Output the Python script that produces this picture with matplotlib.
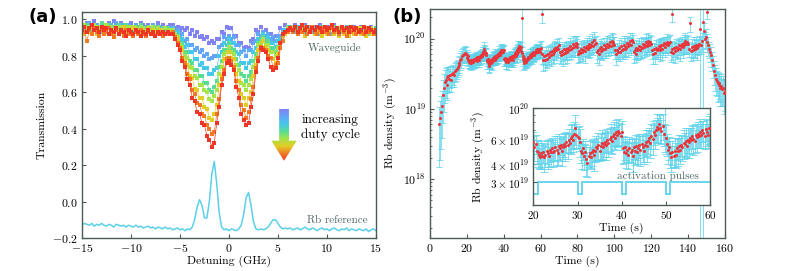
import numpy as np
import matplotlib
matplotlib.use('Agg')
import matplotlib.pyplot as plt
from matplotlib.colors import LinearSegmentedColormap
from matplotlib.patches import Polygon
from matplotlib.ticker import FixedLocator, FixedFormatter, LogLocator, NullFormatter

plt.rcParams['font.family'] = 'cmr10'
plt.rcParams['mathtext.fontset'] = 'cm'
plt.rcParams['axes.formatter.use_mathtext'] = True
plt.rcParams['axes.unicode_minus'] = False

# ---------------- panel (a): transmission vs detuning ----------------
detuning = np.arange(-15, 15.001, 0.25)

purple = [.96,.97,.98,.96,.97,.99,.97,.96,.98,.97,.96,.98,.97,.99,.97,.96,.98,.97,.96,.97,.98,.96,.97,.96,.98,.97,.96,.97,.95,.97,.96,.98,.96,.97,.95,.96,.97,
          .97,.95,.96,.94,.95,.94,.95,.92,.94,.91,.93,.90,.91,.89,.90,.87,.88,.87,.89,.89,.93,.92,.96,.95,.95,.91,.91,.87,.87,.84,.85,.84,.88,.89,.94,.93,.96,.93,.94,.91,.92,.89,.91,.91,.95,.94,.97,.96,
          .96,.95,.97,.96,.95,.96,.97,.95,.96,.94,.96,.95,.97,.96,.94,.95,.96,.95,.97,.95,.94,.96,.95,.96,.94,.95,.96,.95,.94,.96,.95,.94,.95,.96,.94,.95]
blue = [.95,.97,.96,.98,.96,.95,.97,.96,.98,.97,.95,.96,.97,.96,.98,.95,.97,.96,.95,.97,.96,.95,.97,.96,.95,.96,.94,.96,.95,.97,.95,.94,.96,.95,.94,.95,.95,
        .95,.93,.94,.91,.92,.88,.89,.86,.86,.83,.84,.82,.83,.80,.81,.78,.79,.80,.80,.85,.86,.90,.89,.91,.89,.90,.86,.86,.82,.83,.80,.83,.83,.87,.88,.92,.91,.93,.91,.92,.89,.90,.88,.91,.91,.94,.93,.96,
        .95,.96,.94,.96,.95,.93,.96,.95,.94,.96,.95,.93,.95,.96,.94,.95,.93,.95,.96,.94,.95,.93,.94,.96,.95,.93,.94,.95,.93,.94,.96,.94,.93,.95,.94,.93]
cyan = [.94,.96,.93,.95,.97,.94,.96,.95,.93,.96,.95,.97,.94,.95,.96,.94,.95,.97,.95,.94,.96,.95,.93,.95,.96,.94,.95,.93,.95,.94,.96,.94,.93,.95,.94,.95,.94,
        .95,.93,.93,.89,.89,.85,.86,.82,.82,.78,.78,.75,.76,.73,.73,.70,.70,.72,.73,.80,.82,.87,.86,.89,.87,.87,.82,.81,.76,.76,.73,.76,.77,.82,.84,.89,.89,.92,.89,.90,.87,.87,.85,.88,.89,.93,.94,.96,
        .95,.94,.93,.95,.96,.94,.92,.95,.94,.93,.95,.94,.92,.94,.95,.93,.94,.92,.95,.94,.93,.95,.92,.94,.93,.95,.94,.92,.94,.93,.95,.93,.92,.94,.93,.94]
green = [.96,.95,.97,.96,.94,.97,.95,.96,.98,.95,.96,.97,.95,.96,.94,.97,.96,.95,.97,.96,.95,.94,.96,.95,.97,.95,.94,.96,.95,.93,.95,.96,.94,.95,.94,.95,.94,
         .94,.92,.91,.87,.87,.82,.82,.77,.76,.72,.72,.69,.69,.65,.65,.61,.60,.63,.66,.74,.77,.83,.83,.87,.84,.83,.78,.75,.70,.69,.66,.69,.71,.77,.81,.87,.88,.90,.87,.88,.84,.84,.82,.85,.87,.92,.93,.96,
         .95,.96,.94,.95,.93,.96,.95,.94,.96,.95,.93,.95,.94,.96,.95,.93,.94,.95,.96,.94,.95,.93,.95,.94,.96,.94,.93,.95,.94,.95,.93,.94,.95,.93,.94,.95]
lime = [.95,.97,.94,.96,.95,.97,.96,.94,.96,.95,.97,.95,.96,.94,.96,.95,.96,.94,.95,.96,.94,.96,.95,.94,.96,.95,.93,.95,.94,.96,.94,.95,.93,.94,.95,.94,.94,
        .94,.92,.90,.86,.85,.80,.79,.74,.73,.69,.68,.64,.64,.61,.60,.56,.55,.58,.61,.70,.74,.81,.82,.85,.82,.81,.75,.72,.65,.64,.61,.64,.67,.74,.79,.86,.87,.89,.86,.86,.82,.82,.80,.84,.86,.92,.93,.95,
        .94,.96,.95,.93,.95,.94,.96,.94,.93,.95,.94,.96,.93,.95,.94,.93,.95,.96,.94,.93,.95,.94,.92,.95,.94,.93,.95,.94,.93,.95,.92,.94,.93,.95,.94,.93]
yellow = [.94,.92,.95,.93,.96,.94,.92,.95,.94,.96,.93,.95,.94,.92,.95,.93,.94,.96,.93,.94,.92,.95,.93,.94,.92,.94,.93,.95,.92,.94,.93,.92,.94,.93,.92,.93,.93,
          .92,.91,.89,.84,.83,.77,.75,.69,.68,.62,.61,.57,.57,.52,.51,.46,.45,.48,.53,.64,.69,.78,.79,.82,.79,.78,.70,.66,.59,.57,.53,.57,.60,.69,.75,.83,.85,.88,.84,.83,.79,.78,.76,.81,.84,.91,.92,.94,
          .94,.93,.95,.92,.94,.93,.91,.94,.93,.95,.92,.94,.93,.91,.94,.92,.93,.95,.92,.93,.91,.94,.92,.93,.91,.94,.92,.93,.95,.92,.93,.91,.93,.92,.94,.92]
orange = [.95,.93,.88,.94,.92,.95,.93,.91,.94,.92,.93,.95,.92,.90,.94,.92,.93,.91,.94,.92,.93,.91,.93,.92,.94,.92,.91,.93,.92,.93,.91,.92,.93,.91,.92,.92,.92,
          .93,.90,.87,.84,.79,.76,.70,.67,.61,.59,.54,.53,.48,.47,.42,.40,.37,.38,.48,.56,.67,.72,.78,.79,.77,.74,.66,.61,.53,.50,.46,.49,.56,.63,.73,.79,.85,.84,.83,.80,.79,.74,.75,.76,.84,.88,.93,.93,
          .94,.93,.95,.92,.94,.93,.95,.92,.94,.96,.93,.92,.94,.95,.93,.94,.92,.95,.93,.94,.92,.95,.93,.91,.94,.93,.95,.92,.94,.93,.92,.95,.93,.94,.92,.93]
red = [.94,.96,.93,.95,.97,.94,.95,.93,.96,.94,.95,.92,.94,.93,.95,.92,.94,.93,.91,.94,.93,.92,.94,.93,.91,.93,.92,.94,.92,.93,.91,.93,.92,.93,.92,.93,.92,
       .92,.89,.86,.83,.77,.74,.67,.64,.57,.55,.49,.48,.43,.42,.36,.34,.30,.32,.43,.52,.64,.70,.76,.77,.75,.72,.63,.57,.48,.45,.42,.43,.52,.59,.71,.77,.84,.83,.82,.78,.74,.72,.73,.79,.87,.92,.93,.94,
       .95,.94,.96,.93,.95,.97,.94,.96,.93,.95,.94,.96,.95,.93,.96,.94,.95,.97,.94,.95,.93,.96,.94,.95,.93,.96,.94,.95,.93,.94,.96,.93,.95,.94,.93,.94]

rb_reference = [-0.13,-0.12,-0.125,-0.13,-0.12,-0.135,-0.125,-0.13,-0.12,-0.13,-0.135,-0.125,-0.13,-0.14,-0.125,-0.13,-0.135,-0.13,-0.14,-0.13,
                -0.135,-0.14,-0.13,-0.14,-0.135,-0.145,-0.14,-0.135,-0.145,-0.14,-0.15,-0.14,-0.145,-0.15,-0.14,-0.15,-0.145,-0.155,-0.15,-0.145,
                -0.155,-0.15,-0.16,-0.15,-0.155,
                -0.14,-0.10,-0.03,0.01,-0.02,-0.09,-0.09,0.00,0.15,0.22,0.10,-0.06,-0.14,-0.155,-0.15,-0.16,-0.15,-0.155,-0.16,-0.15,
                -0.13,-0.07,0.02,0.05,-0.02,-0.11,-0.15,-0.155,-0.15,-0.155,-0.15,-0.14,-0.12,-0.10,-0.10,-0.12,-0.14,-0.15,-0.145,
                -0.15,-0.145,-0.155,-0.15,-0.145,-0.155,-0.15,-0.14,-0.15,-0.155,-0.145,-0.15,-0.16,-0.15,-0.145,-0.155,-0.15,-0.16,-0.15,-0.145,
                -0.155,-0.16,-0.15,-0.155,-0.145,-0.16,-0.15,-0.155,-0.16,-0.15,-0.155,-0.16,-0.15,-0.165,-0.155,-0.15,-0.16]

curves = [purple, blue, cyan, green, lime, yellow, orange, red]
curve_colors = ['#8282f2', '#62a6f7', '#46c8ea', '#58dc96', '#a6e44a', '#e2cc26', '#f07a24', '#ee3526']

# ---------------- panel (b): Rb density vs time (units of 1e19 m^-3) ----------------
t_early = np.arange(5.0, 19.6, 0.5)
t_mid = np.arange(20.0, 59.9, 0.25)
t_late = np.arange(60.0, 160.1, 0.5)

dens_early = [0.6, 0.75, 0.9, 1.1, 1.6, 2.0, 2.4, 2.6, 2.2, 2.8, 2.9, 2.7, 3.0, 2.6, 3.1, 3.2, 3.0, 3.4, 3.6, 3.7,
              3.9, 4.2, 4.5, 4.9, 5.2, 5.6, 5.9, 6.1, 6.3, 6.0]
dens_mid = [5.8, 5.3, 5.6, 5.0, 4.9,
            4.7, 4.5, 4.8, 4.6, 4.9, 4.5, 4.7, 5.0, 4.8, 4.6, 5.1, 4.9,
            5.2, 4.9, 5.0, 5.3, 5.1, 4.8, 5.4, 5.2, 5.5, 5.0, 5.3, 5.6,
            5.4, 5.8, 5.5, 6.0, 5.7, 6.2, 6.4, 6.0, 6.6, 7.2, 6.5, 6.3,
            6.2, 5.8, 5.0, 4.8, 5.2, 4.6, 4.9, 4.4, 4.1, 4.6, 4.8, 4.5,
            4.9, 5.1, 4.7, 5.0, 5.3, 5.2, 5.5, 5.0, 5.4, 5.7, 5.3, 5.6,
            5.8, 5.5, 6.0, 5.7, 6.1, 6.3, 5.9, 6.4, 6.6, 6.2, 6.8, 6.5,
            6.9, 6.7, 6.4, 6.8, 5.2, 4.9, 5.3, 4.8, 5.1, 4.7, 5.2, 4.9,
            5.1, 4.6, 5.3, 5.0, 5.4, 4.9, 5.2, 5.5, 5.1, 5.6, 5.3, 5.0,
            5.5, 5.8, 5.4, 5.9, 6.2, 5.7, 6.4, 6.1, 6.8, 6.5, 7.0, 7.4,
            7.1, 7.8, 7.3, 6.9, 7.5, 6.6, 19.5, 6.2, 5.6, 5.1, 5.3, 4.8,
            4.5, 4.9, 4.6, 5.0, 4.7, 5.2, 5.0, 5.4, 5.1, 5.5, 5.3, 5.7,
            5.6, 5.9, 5.4, 6.0, 5.8, 6.2, 6.0, 6.4, 6.1, 5.9, 6.5, 6.3,
            6.6, 6.4, 6.8, 6.5, 7.0, 6.7, 6.4, 7.1, 6.8, 6.5, 7.2]
dens_late = [7.3, 22.0, 6.0, 5.0, 5.6, 4.9, 5.8, 5.2, 6.1, 5.5, 6.4, 5.8, 6.7, 6.1, 7.0, 6.5, 7.4, 6.8, 7.7, 7.2,
             8.0, 6.4, 5.8, 6.6, 6.0, 7.0, 6.2, 6.6, 7.1, 6.5, 7.3, 6.8, 7.9, 7.0, 7.4, 8.3, 7.5, 7.9, 8.6, 7.7,
             8.3, 6.1, 6.7, 6.2, 7.1, 6.5, 6.9, 7.6, 6.6, 7.4, 7.9, 7.1, 7.5, 8.4, 7.6, 8.1, 8.9, 7.8, 9.6, 8.5,
             8.7, 6.4, 6.9, 6.0, 7.3, 6.7, 7.6, 6.8, 7.2, 8.0, 7.0, 7.7, 8.5, 7.5, 8.2, 8.8, 7.9, 9.3, 8.4, 9.0,
             8.2, 6.8, 6.0, 6.9, 6.4, 7.3, 6.5, 7.8, 6.9, 7.2, 8.1, 7.0, 7.9, 7.4, 8.6, 7.8, 8.3, 9.1, 8.0, 9.4,
             8.9, 6.5, 6.9, 6.1, 7.4, 6.8, 7.0, 7.9, 6.9, 7.7, 7.3, 8.4, 7.6, 8.0, 8.8, 7.9, 8.5, 9.2, 8.2, 9.0,
             8.3, 6.9, 6.1, 7.0, 6.3, 7.4, 6.8, 7.1, 7.8, 6.9, 7.6, 8.2, 7.2, 8.0, 8.6, 7.6, 8.4, 9.0, 8.1, 8.7,
             8.8, 6.5, 22.0, 7.1, 6.3, 7.3, 6.6, 7.7, 6.9, 7.4, 8.0, 7.0, 7.8, 8.4, 7.5, 8.7, 8.0, 9.1, 8.3, 8.8,
             8.4, 7.2, 16.5, 6.6, 7.5, 6.8, 7.9, 7.0, 7.5, 8.2, 7.3, 7.9, 8.5, 13.5, 8.2, 9.2, 17.0, 13.0, 9.8, 10.5,
             24.0, 9.0, 8.0, 7.2, 6.5, 5.8, 4.9, 4.2, 3.5, 3.0, 2.7, 2.5, 2.3, 2.2, 2.3, 2.0, 2.1, 1.9, 2.0, 1.7, 1.8]

# relative error bars in percent
err_early = [75, 75, 70, 65, 60, 55, 50, 45, 40, 40, 38, 36, 35, 34, 33, 32, 31, 30, 30, 29,
             28, 28, 27, 27, 26, 26, 25, 25, 25, 25]
err_mid = [18, 20, 16, 19, 22,
           20, 17, 23, 19, 16, 21, 18, 20, 23, 16, 19, 21,
           18, 22, 16, 20, 24, 17, 21, 19, 15, 22, 18, 20,
           22, 17, 21, 19, 16, 23, 20, 18, 22, 24, 19, 17,
           20, 22, 18, 23, 17, 21, 19, 25, 20, 16, 22, 18,
           21, 19, 23, 17, 20, 18, 22, 16, 21, 23, 19, 20,
           17, 22, 19, 21, 18, 23, 20, 16, 22, 19, 21, 18,
           22, 18, 21, 20, 23, 17, 19, 22, 18, 21, 20, 17,
           19, 23, 17, 21, 20, 18, 22, 19, 24, 17, 21, 20,
           18, 21, 23, 19, 17, 22, 20, 24, 19, 21, 18, 23,
           20, 17, 22, 19, 21, 18, 75, 23, 18, 21, 19, 22,
           21, 19, 17, 23, 20, 18, 22, 19, 21, 17, 20, 23,
           19, 22, 18, 20, 24, 17, 21, 19, 23, 18, 20, 22,
           21, 18, 23, 19, 17, 22, 20, 18, 21, 19, 23]
err_late = [25, 25, 28, 30, 24, 27, 31, 26, 29, 24, 27, 30, 25, 28, 26, 31, 24, 27, 29, 26,
            27, 30, 25, 28, 32, 26, 29, 24, 27, 31, 25, 28, 30, 26, 24, 29, 27, 31, 25, 28,
            29, 26, 31, 24, 28, 27, 30, 25, 32, 26, 28, 24, 29, 31, 27, 25, 30, 26, 28, 24,
            26, 29, 25, 30, 27, 24, 31, 28, 26, 29, 25, 32, 27, 24, 30, 28, 26, 31, 25, 29,
            28, 25, 30, 27, 24, 31, 26, 29, 25, 28, 32, 26, 30, 24, 27, 29, 25, 31, 28, 26,
            25, 31, 27, 24, 29, 26, 30, 28, 25, 32, 27, 24, 29, 26, 31, 28, 25, 30, 27, 26,
            30, 26, 28, 25, 31, 27, 24, 29, 26, 30, 28, 25, 32, 27, 24, 29, 26, 31, 28, 25,
            27, 29, 22, 30, 26, 24, 31, 28, 25, 29, 27, 32, 26, 24, 30, 28, 25, 31, 27, 29,
            28, 25, 24, 27, 30, 26, 31, 24, 29, 27, 32, 25, 28, 99.95, 27, 30, 99.95, 26, 28, 30,
            22, 28, 30, 26, 29, 32, 30, 35, 38, 40, 42, 40, 45, 42, 40, 45, 48, 42, 45, 50, 48]

pulse_edges = [20, 21, 30, 31, 40, 41, 50, 51, 60]
pulse_level = [2.45, 3.0, 2.45, 3.0, 2.45, 3.0, 2.45, 3.0]

FRAME = '#4b5b56'
LABEL_GREY = '#4f6666'
CYAN = '#5ed2ea'
DOT_RED = '#e8373c'


def style_axes(ax, size=8.5):
    for sp in ax.spines.values():
        sp.set_color(FRAME)
        sp.set_linewidth(1.0)
    ax.tick_params(which='both', direction='in', color=FRAME, labelsize=size, pad=3)
    ax.tick_params(which='major', length=3, width=0.8)
    ax.tick_params(which='minor', length=1.6, width=0.6)


fig = plt.figure(figsize=(7.92, 2.71), dpi=100)

# ---- (a)
ax_a = fig.add_axes([0.1035, 0.1218, 0.3712, 0.834])
for y, c in zip(curves, curve_colors):
    ax_a.plot(detuning, y, color=c, lw=0.5, marker='s', ms=2.4, mew=0)
ax_a.plot(detuning, rb_reference, color='#5bd0e8', lw=1.1)

arrow_cmap = LinearSegmentedColormap.from_list('duty', curve_colors)
grad = np.linspace(0, 1, 256).reshape(-1, 1)
im = ax_a.imshow(grad, extent=[4.3, 6.95, 0.224, 0.508], aspect='auto', cmap=arrow_cmap,
                 origin='upper', zorder=3)
arrow = Polygon([(5.12, 0.508), (6.12, 0.508), (6.12, 0.334), (6.92, 0.334), (5.62, 0.224),
                 (4.32, 0.334), (5.12, 0.334)], closed=True, facecolor='none', edgecolor='none',
                transform=ax_a.transData)
ax_a.add_patch(arrow)
im.set_clip_path(arrow)

ax_a.text(7.4, 0.406, 'increasing\nduty cycle', fontsize=9.5, va='center', ha='left', linespacing=1.2)
ax_a.text(8.0, 0.84, 'Waveguide', fontsize=8, color=LABEL_GREY, va='center')
ax_a.text(8.0, -0.10, 'Rb reference', fontsize=8, color=LABEL_GREY, va='center')

ax_a.set_xlim(-15, 15)
ax_a.set_ylim(-0.2, 1.04)
ax_a.set_xticks([-15, -10, -5, 0, 5, 10, 15])
ax_a.set_yticks([-0.2, 0.0, 0.2, 0.4, 0.6, 0.8, 1.0])
ax_a.set_xlabel('Detuning (GHz)', fontsize=8.5, labelpad=1)
ax_a.set_ylabel('Transmission', fontsize=8.5, labelpad=4)
style_axes(ax_a)

# ---- (b)
time = np.concatenate([t_early, t_mid, t_late])
dens = np.concatenate([dens_early, dens_mid, dens_late]) * 1e19
err = np.concatenate([err_early, err_mid, err_late]) / 100.0 * dens

ax_b = fig.add_axes([0.5429, 0.1218, 0.3725, 0.845])
ax_b.errorbar(time, dens, yerr=err, fmt='none', ecolor=CYAN, elinewidth=0.7, capsize=2.5,
              capthick=0.7, alpha=0.75)
ax_b.plot(time, dens, 'o', color=DOT_RED, ms=2.2, mew=0, zorder=4)
ax_b.set_yscale('log')
ax_b.set_xlim(0, 160)
ax_b.set_ylim(1.46e17, 2.63e20)
ax_b.set_xticks(np.arange(0, 161, 20))
ax_b.yaxis.set_major_locator(LogLocator(base=10))
ax_b.yaxis.set_minor_locator(LogLocator(base=10, subs=np.arange(2, 10)))
ax_b.yaxis.set_minor_formatter(NullFormatter())
ax_b.set_xlabel('Time (s)', fontsize=8.5, labelpad=1)
ax_b.set_ylabel('Rb density (m$^{-3}$)', fontsize=8.5, labelpad=3)
style_axes(ax_b)

# inset
sel = (time >= 20) & (time <= 60)
ax_in = fig.add_axes([0.6734, 0.2435, 0.2231, 0.3568])
ax_in.set_facecolor('white')
ax_in.errorbar(time[sel], dens[sel], yerr=err[sel], fmt='none', ecolor=CYAN, elinewidth=0.7,
               capsize=3, capthick=0.7, alpha=0.8)
ax_in.plot(time[sel], dens[sel], 'o', color=DOT_RED, ms=2.2, mew=0, zorder=4)
ax_in.stairs(np.array(pulse_level) * 1e19, pulse_edges, baseline=None, color=CYAN, lw=1.3)
ax_in.text(39.0, 3.33e19, 'activation pulses', fontsize=8, color=LABEL_GREY, va='center')
ax_in.set_yscale('log')
ax_in.set_xlim(20, 60)
ax_in.set_ylim(2.06e19, 1.0e20)
ax_in.set_xticks([20, 30, 40, 50, 60])
ax_in.yaxis.set_major_locator(FixedLocator([3e19, 4e19, 6e19, 1e20]))
ax_in.yaxis.set_major_formatter(FixedFormatter([r'$3\times10^{19}$', r'$4\times10^{19}$',
                                                r'$6\times10^{19}$', r'$10^{20}$']))
ax_in.yaxis.set_minor_locator(LogLocator(base=10, subs=np.arange(2, 10)))
ax_in.yaxis.set_minor_formatter(NullFormatter())
ax_in.set_xlabel('Time (s)', fontsize=8.5, labelpad=1)
ax_in.set_ylabel('Rb density (m$^{-3}$)', fontsize=8.5, labelpad=2)
style_axes(ax_in, size=8)

fig.text(0.036, 0.937, '(a)', fontsize=13, family='DejaVu Sans', weight='bold', va='center', ha='left')
fig.text(0.496, 0.937, '(b)', fontsize=13, family='DejaVu Sans', weight='bold', va='center', ha='left')

fig.savefig('out.png', dpi=100)
